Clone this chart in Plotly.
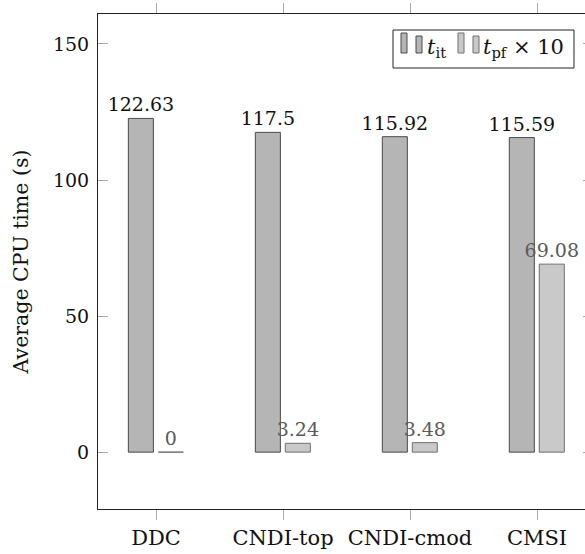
import plotly.graph_objects as go

# Average CPU time per method
methods = ["DDC", "CNDI-top", "CNDI-cmod", "CMSI"]
t_it = [122.63, 117.5, 115.92, 115.59]
t_pf_x10 = [0, 3.24, 3.48, 69.08]

FONT = "DejaVu Serif"
FS = 19

W, H = 595, 554
ML, MR, MT, MB = 98, 2, 14, 45

fig = go.Figure()

fig.add_trace(go.Bar(
    x=methods, y=t_it, name="t_it",
    width=0.197, offset=-0.218,
    marker=dict(color="#b5b5b5", line=dict(color="#4a4a4a", width=1)),
    text=[f"{v:g}" for v in t_it], textposition="outside",
    textfont=dict(family=FONT, size=FS, color="#111111"),
    constraintext="none", cliponaxis=False, showlegend=False,
))
fig.add_trace(go.Bar(
    x=methods, y=t_pf_x10, name="t_pf x 10",
    width=0.197, offset=0.018,
    marker=dict(color="#c9c9c9", line=dict(color="#6e6e6e", width=1)),
    text=[f"{v:g}" for v in t_pf_x10], textposition="outside",
    textfont=dict(family=FONT, size=FS, color="#5a5a5a"),
    constraintext="none", cliponaxis=False, showlegend=False,
))

# legend box drawn by hand (two small bars per entry, pgfplots style)
pw = W - ML - MR
ph = H - MT - MB


def px(x):
    return (x - ML) / pw


def py(y):
    return (H - MB - y) / ph


shapes = [dict(type="rect", xref="paper", yref="paper",
               x0=px(393), x1=px(574), y0=py(68), y1=py(30),
               line=dict(color="#222222", width=1), fillcolor="white")]
icons = [
    (401, "#b5b5b5", "#4a4a4a"),
    (458, "#c9c9c9", "#6e6e6e"),
]
for x0, fill, edge in icons:
    shapes.append(dict(type="rect", xref="paper", yref="paper",
                       x0=px(x0), x1=px(x0 + 6), y0=py(53), y1=py(33),
                       line=dict(color=edge, width=1), fillcolor=fill))
    shapes.append(dict(type="rect", xref="paper", yref="paper",
                       x0=px(x0 + 15), x1=px(x0 + 21), y0=py(53), y1=py(36),
                       line=dict(color=edge, width=1), fillcolor=fill))

annotations = [
    dict(xref="paper", yref="paper", x=px(425), y=py(48), xanchor="left", yanchor="middle",
         text="<i>t</i><sub>it</sub>", showarrow=False,
         font=dict(family=FONT, size=21, color="#111111")),
    dict(xref="paper", yref="paper", x=px(481), y=py(48), xanchor="left", yanchor="middle",
         text="<i>t</i><sub>pf</sub> × 10", showarrow=False,
         font=dict(family=FONT, size=21, color="#111111")),
]

fig.update_layout(
    width=W, height=H,
    margin=dict(l=ML, r=MR, t=MT, b=MB, pad=0),
    barmode="overlay",
    plot_bgcolor="white", paper_bgcolor="white",
    font=dict(family=FONT, size=FS, color="#111111"),
    shapes=shapes, annotations=annotations,
    showlegend=False,
    xaxis=dict(
        range=[-0.457, 3.441], showgrid=False, zeroline=False,
        showline=True, linecolor="#222222", linewidth=1, mirror="allticks",
        ticks="outside", ticklen=10, tickcolor="#aaaaaa", tickwidth=1,
        tickfont=dict(family=FONT, size=21),
    ),
    yaxis=dict(
        range=[-20.9, 161.0], showgrid=False, zeroline=False,
        tickvals=[0, 50, 100, 150],
        showline=True, linecolor="#222222", linewidth=1, mirror="allticks",
        ticks="inside", ticklen=10, tickcolor="#aaaaaa", tickwidth=1,
        tickfont=dict(family=FONT, size=FS),
        ticklabelstandoff=4,
        title=dict(text="Average CPU time (s)", font=dict(family=FONT, size=20.5), standoff=18),
    ),
)

fig.write_html("out.html")
